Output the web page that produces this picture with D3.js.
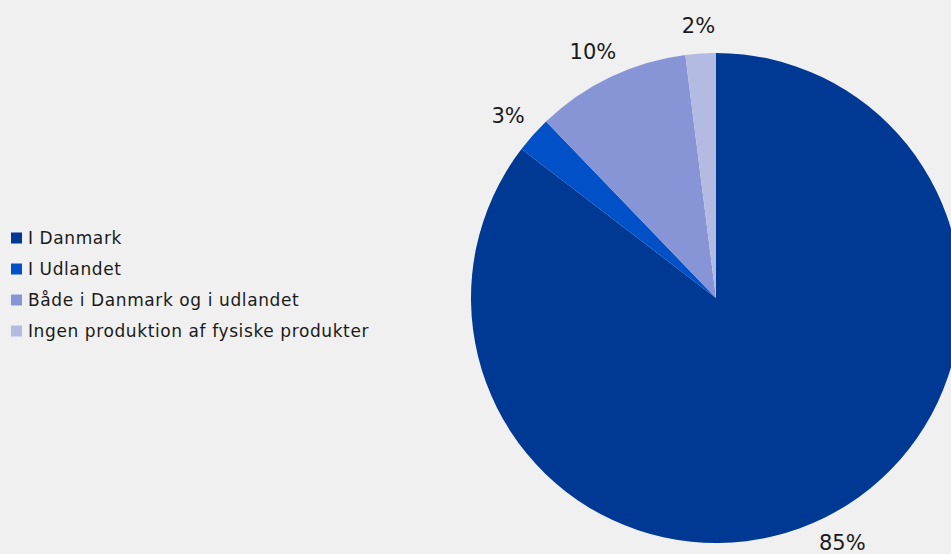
<!DOCTYPE html>
<html>
<head>
<meta charset="utf-8">
<script src="https://cdn.jsdelivr.net/npm/d3@7"></script>
<style>
  html, body { margin: 0; padding: 0; background: #f0f0f0; }
  svg { display: block; font-family: "DejaVu Sans", sans-serif; }
</style>
</head>
<body>
<div id="chart"></div>
<script>
// Produktion af fysiske produkter - pie chart

const categories = ['I Danmark', 'I Udlandet', 'Både i Danmark og i udlandet', 'Ingen produktion af fysiske produkter'];
const shares = [85.4, 2.4, 10.2, 2.0];
const shareLabels = ['85%', '3%', '10%', '2%'];
const colors = ['#003994', '#0050c8', '#8795d6', '#b3bbe3'];

const width = 951, height = 554;
const cx = 716, cy = 298, radius = 245;

const svg = d3.select('#chart').append('svg')
    .attr('width', width)
    .attr('height', height);

svg.append('rect')
    .attr('width', width)
    .attr('height', height)
    .attr('fill', '#f0f0f0');

const data = categories.map((c, i) => ({name: c, value: shares[i], label: shareLabels[i]}));

const pie = d3.pie()
    .sort(null)
    .value(d => d.value);

const arc = d3.arc().innerRadius(0).outerRadius(radius);

const g = svg.append('g')
    .attr('transform', `translate(${cx},${cy})`);

const arcs = pie(data);

g.selectAll('path')
    .data(arcs)
    .enter()
    .append('path')
    .attr('d', arc)
    .attr('fill', (d, i) => colors[i]);

// labels sit outside the pie edge, pushed out by half their box size
const labelGap = 17;
const labels = g.selectAll('text.lbl')
    .data(arcs)
    .enter()
    .append('text')
    .attr('class', 'lbl')
    .attr('text-anchor', 'middle')
    .attr('dominant-baseline', 'central')
    .style('font-size', '21px')
    .attr('fill', '#1a1a1a')
    .text(d => d.data.label);

labels.each(function(d) {
    const box = this.getBBox();
    const a = (d.startAngle + d.endAngle) / 2;
    const sx = Math.sin(a), sy = -Math.cos(a);
    const r = radius + labelGap;
    d3.select(this)
        .attr('x', r * sx + sx * box.width / 2)
        .attr('y', r * sy + sy * 11);
});

// Legend
const legend = svg.append('g')
    .attr('transform', 'translate(11, 238)');

const rows = legend.selectAll('g')
    .data(categories)
    .enter()
    .append('g')
    .attr('transform', (d, i) => `translate(0, ${i * 31})`);

rows.append('rect')
    .attr('x', 0)
    .attr('y', -5.5)
    .attr('width', 11)
    .attr('height', 11)
    .attr('fill', (d, i) => colors[i]);

rows.append('text')
    .attr('x', 17)
    .attr('y', 0)
    .attr('dominant-baseline', 'central')
    .style('font-size', '17px')
    .style('letter-spacing', '0.6px')
    .attr('fill', '#1a1a1a')
    .text(d => d);
</script>
</body>
</html>
